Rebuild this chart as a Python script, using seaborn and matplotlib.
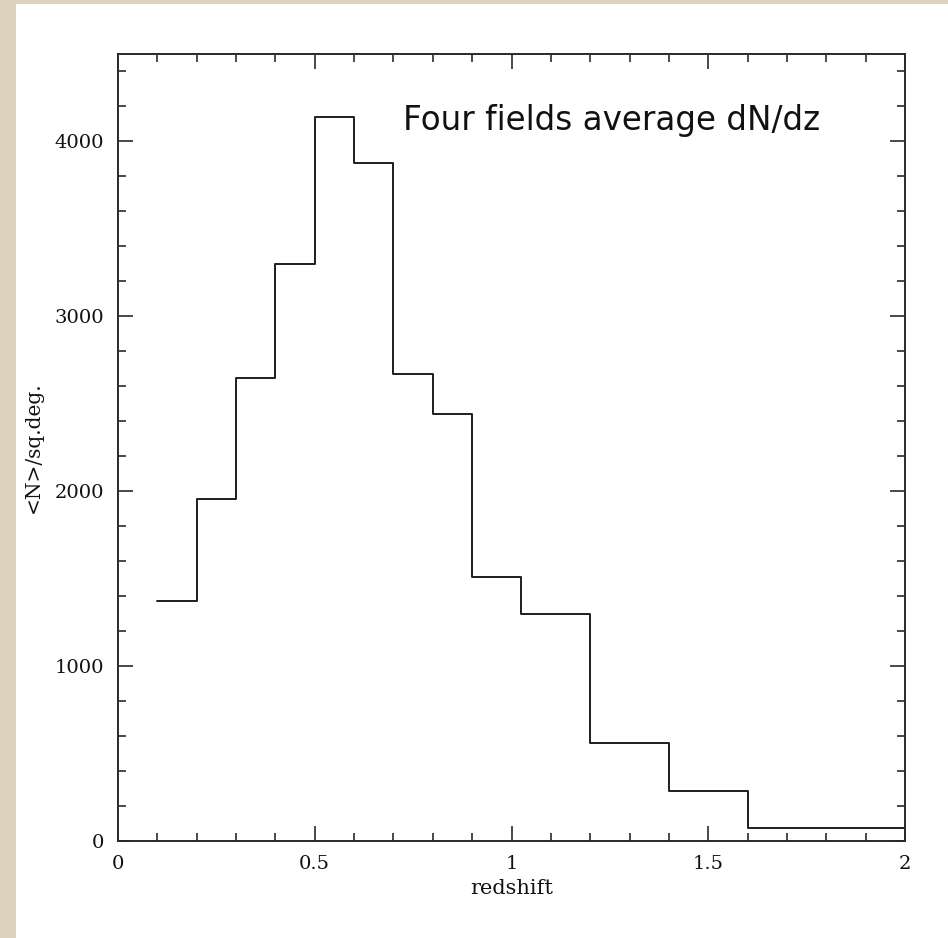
import matplotlib
matplotlib.use("Agg")
import matplotlib.pyplot as plt
import matplotlib.ticker as mticker
from matplotlib.patches import Rectangle
import seaborn as sns
import pandas as pd

# Data (bin edges and <N>/sq.deg. per bin)
bin_edges = [0.1, 0.2, 0.3, 0.4, 0.5, 0.6, 0.7, 0.8, 0.9, 1.025, 1.2, 1.4, 1.6, 1.8, 2.0]
counts = [1370, 1955, 2645, 3300, 4140, 3878, 2671, 2443, 1512, 1296, 563, 284, 76, 72]
x_ticks = [0, 0.5, 1, 1.5, 2]
y_ticks = [0, 1000, 2000, 3000, 4000]

title_text = "Four fields average dN/dz"
x_label = "redshift"
y_label = "<N>/sq.deg."

sns.set_theme(style="ticks")
plt.rcParams["font.family"] = ["DejaVu Serif"]

fig = plt.figure(figsize=(9.48, 9.38), dpi=100)
fig.patch.set_facecolor("white")
# textured-border imitation
fig.patches.append(Rectangle((0, 0), 16 / 948, 1, transform=fig.transFigure,
                             facecolor="#dcd2bd", edgecolor="none", zorder=0))
fig.patches.append(Rectangle((0, 1 - 4 / 938), 1, 4 / 938, transform=fig.transFigure,
                             facecolor="#dcd2bd", edgecolor="none", zorder=0))

ax = fig.add_axes([118 / 948, 1 - 841 / 938, 787 / 948, 787 / 938])
ax.set_facecolor("white")

df = pd.DataFrame({"z": bin_edges, "n": counts + [counts[-1]]})
sns.lineplot(data=df, x="z", y="n", drawstyle="steps-post", estimator=None,
             color="#1e1e1e", linewidth=1.4, ax=ax)

ax.set_xlim(0, 2)
ax.set_ylim(0, 4500)
ax.xaxis.set_major_locator(mticker.FixedLocator(x_ticks))
ax.yaxis.set_major_locator(mticker.FixedLocator(y_ticks))
ax.xaxis.set_minor_locator(mticker.MultipleLocator(0.1))
ax.yaxis.set_minor_locator(mticker.MultipleLocator(200))
ax.xaxis.set_major_formatter(mticker.FormatStrFormatter("%g"))
ax.yaxis.set_major_formatter(mticker.FormatStrFormatter("%g"))

for s in ax.spines.values():
    s.set_visible(True)
    s.set_linewidth(1.4)
    s.set_color("#2a2a2a")

ax.tick_params(which="both", direction="in", top=True, right=True,
               color="#2a2a2a", width=1.2, labelsize=14, labelcolor="#111111")
ax.tick_params(which="major", length=11, pad=10)
ax.tick_params(which="minor", length=5.5)

ax.set_xlabel(x_label, fontsize=15, color="#111111")
ax.set_ylabel(y_label, fontsize=14.5, color="#111111")
ax.xaxis.set_label_coords(0.5, -0.048)
ax.yaxis.set_label_coords(-0.095, 0.5)

fig.text(403 / 948, 1 - 130 / 938, title_text, fontsize=23.5,
         family=["DejaVu Sans"], color="#111111", ha="left", va="baseline")

fig.savefig("out.png", dpi=100, facecolor=fig.get_facecolor())
